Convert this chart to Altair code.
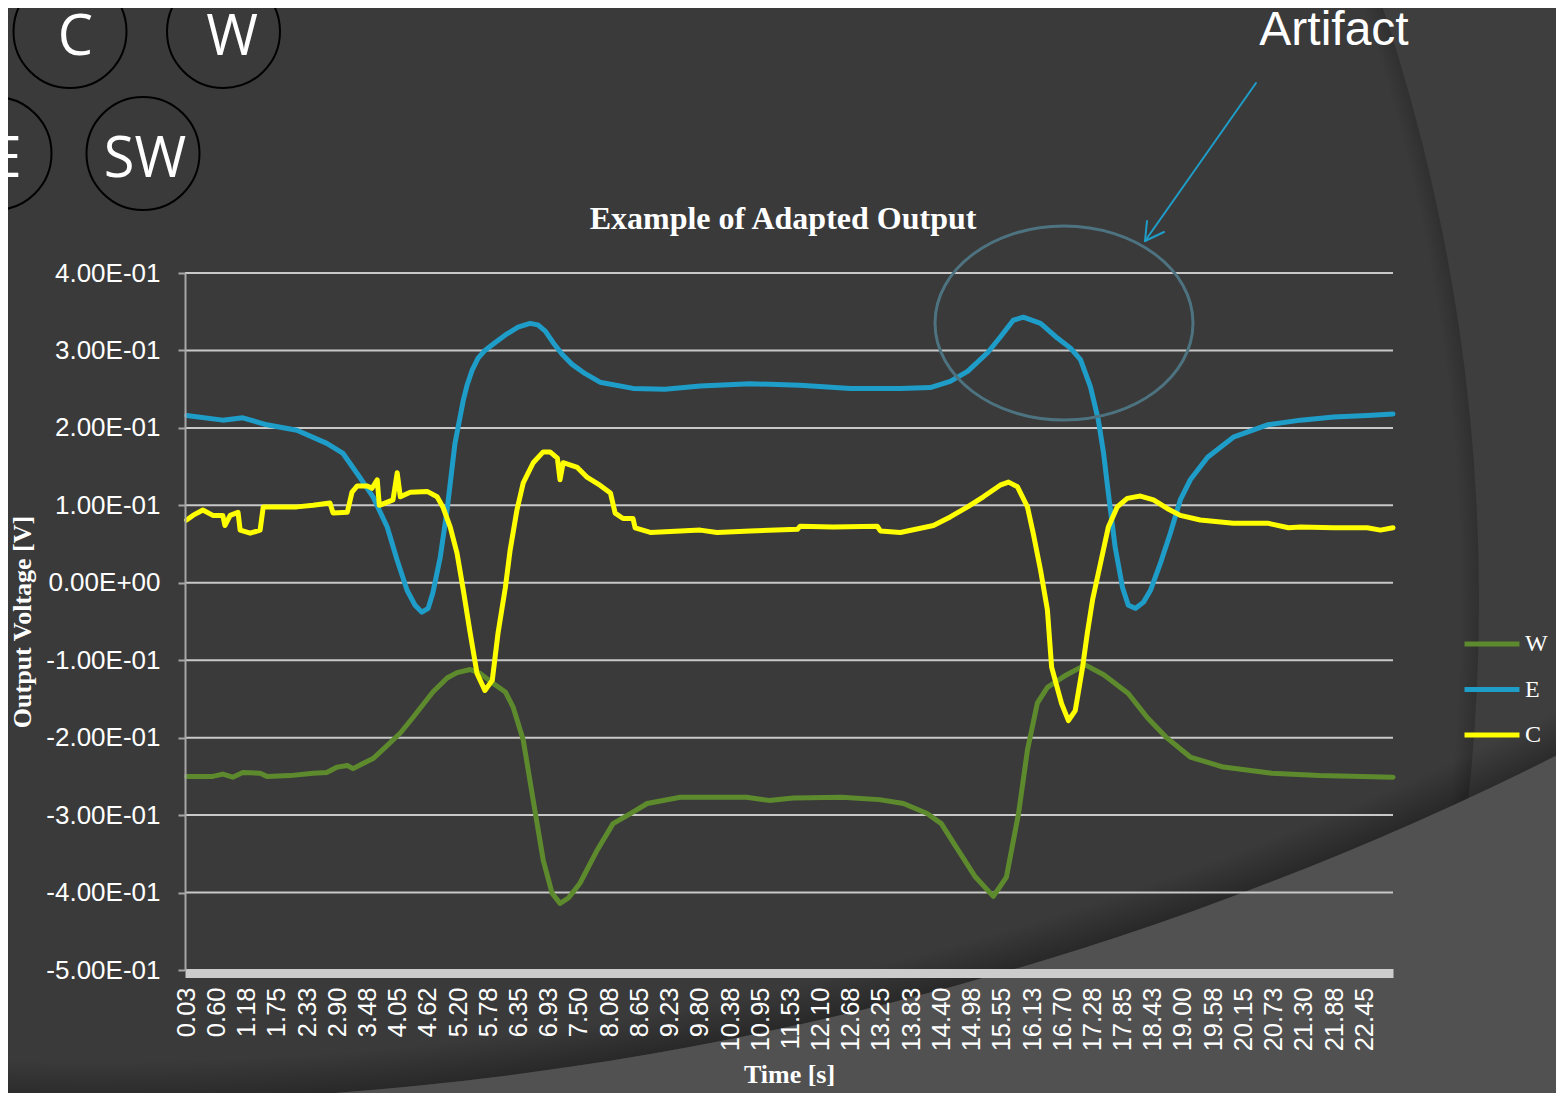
import json
import math
import altair as alt
import pandas as pd

# ---------------- data ----------------
series_names = ["W", "E", "C"]
series_colors = ["#5e8a2e", "#1f9dc9", "#ffff00"]

W_t = [0.03, 0.53, 0.72, 0.91, 1.10, 1.43, 1.56, 2.00, 2.44, 2.70, 2.90, 3.09, 3.20, 3.37, 3.58,
       3.71, 3.96, 4.10, 4.34, 4.72, 4.99, 5.18, 5.43, 5.62, 5.87, 6.10, 6.25, 6.44, 6.63, 6.82,
       6.99, 7.14, 7.30, 7.52, 7.85, 8.15, 8.48, 8.80, 9.43, 9.77, 10.69, 11.12, 11.58, 12.50, 13.22,
       13.68, 14.13, 14.40, 14.69, 15.05, 15.39, 15.64, 15.87, 16.04, 16.23, 16.42, 16.78, 17.14, 17.50, 17.96,
       18.32, 18.69, 19.14, 19.77, 20.69, 21.60, 23.00]
W_v = [-0.250, -0.250, -0.247, -0.251, -0.245, -0.246, -0.250, -0.249, -0.246, -0.245, -0.238, -0.236, -0.240, -0.234, -0.227,
       -0.219, -0.203, -0.194, -0.174, -0.141, -0.123, -0.116, -0.112, -0.117, -0.130, -0.141, -0.161, -0.203, -0.281, -0.358,
       -0.401, -0.414, -0.407, -0.388, -0.345, -0.311, -0.298, -0.285, -0.277, -0.277, -0.277, -0.281, -0.278, -0.277, -0.280,
       -0.285, -0.298, -0.311, -0.342, -0.380, -0.405, -0.380, -0.298, -0.216, -0.155, -0.135, -0.119, -0.106, -0.119, -0.143,
       -0.174, -0.200, -0.225, -0.238, -0.246, -0.249, -0.251]

E_t = [0.03, 0.72, 1.10, 1.56, 2.13, 2.70, 3.01, 3.33, 3.58, 3.85, 4.04, 4.23, 4.38, 4.51, 4.63,
       4.72, 4.86, 4.99, 5.14, 5.30, 5.37, 5.47, 5.58, 5.71, 5.90, 6.10, 6.34, 6.57, 6.72, 6.86,
       7.01, 7.18, 7.37, 7.62, 7.90, 8.53, 9.14, 9.81, 10.76, 11.71, 12.67, 13.62, 14.19, 14.57, 14.90,
       15.28, 15.52, 15.77, 15.96, 16.29, 16.61, 16.86, 17.05, 17.24, 17.39, 17.49, 17.58, 17.71, 17.85, 17.96,
       18.10, 18.25, 18.38, 18.57, 18.76, 18.95, 19.14, 19.47, 19.96, 20.61, 21.24, 21.87, 22.51, 23.00]
E_v = [0.216, 0.210, 0.213, 0.204, 0.197, 0.180, 0.167, 0.136, 0.111, 0.072, 0.029, -0.010, -0.029, -0.038, -0.033,
       -0.013, 0.033, 0.094, 0.180, 0.236, 0.255, 0.275, 0.290, 0.300, 0.310, 0.320, 0.330, 0.335, 0.333, 0.325,
       0.310, 0.295, 0.282, 0.270, 0.259, 0.251, 0.250, 0.254, 0.257, 0.255, 0.251, 0.251, 0.252, 0.260, 0.273,
       0.297, 0.317, 0.339, 0.343, 0.335, 0.316, 0.303, 0.288, 0.253, 0.210, 0.167, 0.116, 0.046, -0.006, -0.029,
       -0.033, -0.025, -0.010, 0.025, 0.064, 0.107, 0.133, 0.162, 0.188, 0.204, 0.210, 0.214, 0.216, 0.218]

C_t = [0.03, 0.15, 0.34, 0.53, 0.72, 0.76, 0.86, 1.01, 1.05, 1.24, 1.43, 1.49, 1.81, 2.13, 2.44,
       2.76, 2.82, 3.09, 3.18, 3.28, 3.47, 3.56, 3.66, 3.70, 3.96, 4.04, 4.10, 4.29, 4.61, 4.80,
       4.91, 5.05, 5.18, 5.30, 5.43, 5.56, 5.71, 5.85, 5.96, 6.10, 6.19, 6.32, 6.44, 6.63, 6.82,
       6.95, 7.09, 7.14, 7.20, 7.47, 7.66, 7.90, 8.10, 8.19, 8.34, 8.53, 8.57, 8.86, 9.81, 10.13,
       10.76, 11.66, 11.71, 12.34, 13.18, 13.24, 13.62, 14.25, 14.57, 14.90, 15.20, 15.52, 15.68, 15.85, 16.04,
       16.15, 16.29, 16.42, 16.50, 16.69, 16.82, 16.95, 17.09, 17.18, 17.28, 17.43, 17.58, 17.75, 17.94, 18.19,
       18.44, 18.70, 18.95, 19.33, 19.96, 20.61, 21.01, 21.24, 21.87, 22.51, 22.76, 23.00]
C_v = [0.081, 0.087, 0.094, 0.087, 0.087, 0.074, 0.087, 0.091, 0.068, 0.064, 0.068, 0.098, 0.098, 0.098, 0.100,
       0.103, 0.090, 0.091, 0.117, 0.125, 0.125, 0.122, 0.133, 0.100, 0.107, 0.142, 0.111, 0.117, 0.118, 0.111,
       0.098, 0.072, 0.038, -0.010, -0.065, -0.117, -0.139, -0.126, -0.065, -0.006, 0.042, 0.094, 0.129, 0.155, 0.169,
       0.169, 0.161, 0.133, 0.155, 0.149, 0.136, 0.126, 0.116, 0.090, 0.083, 0.083, 0.071, 0.065, 0.068, 0.065,
       0.067, 0.069, 0.073, 0.072, 0.073, 0.067, 0.065, 0.074, 0.085, 0.098, 0.111, 0.126, 0.130, 0.124, 0.098,
       0.064, 0.016, -0.035, -0.109, -0.156, -0.178, -0.165, -0.109, -0.065, -0.022, 0.025, 0.072, 0.098, 0.109, 0.112,
       0.107, 0.096, 0.087, 0.081, 0.077, 0.077, 0.071, 0.072, 0.071, 0.071, 0.068, 0.071]

x_tick_labels = ["0.03", "0.60", "1.18", "1.75", "2.33", "2.90", "3.48", "4.05", "4.62", "5.20",
                 "5.78", "6.35", "6.93", "7.50", "8.08", "8.65", "9.23", "9.80", "10.38", "10.95",
                 "11.53", "12.10", "12.68", "13.25", "13.83", "14.40", "14.98", "15.55", "16.13", "16.70",
                 "17.28", "17.85", "18.43", "19.00", "19.58", "20.15", "20.73", "21.30", "21.88", "22.45"]
y_tick_values = [-0.5, -0.4, -0.3, -0.2, -0.1, 0.0, 0.1, 0.2, 0.3, 0.4]
y_tick_labels = ["-5.00E-01", "-4.00E-01", "-3.00E-01", "-2.00E-01", "-1.00E-01",
                 "0.00E+00", "1.00E-01", "2.00E-01", "3.00E-01", "4.00E-01"]

title_text = "Example of Adapted Output"
x_title = "Time [s]"
y_title = "Output Voltage [V]"

rows = []
for name, ts, vs in [("W", W_t, W_v), ("E", E_t, E_v), ("C", C_t, C_v)]:
    for t, v in zip(ts, vs):
        rows.append({"series": name, "time": t, "voltage": v})
df = pd.DataFrame(rows)
grid_df = pd.DataFrame({"value": y_tick_values[1:]})
one = pd.DataFrame({"k": [0]})

# ---------------- layout ----------------
PW, PH = 1208, 697          # plot area
X0, Y0 = 185, 273           # page position of the plot origin
TOTAL_W, TOTAL_H = 1548, 1085


def px(x):
    return x - X0


def py(y):
    return y - Y0


WHITE = "#ffffff"
SANS = "Liberation Sans"
SERIF = "Liberation Serif"

x_scale = alt.Scale(domain=[0.0, 23.0], nice=False, zero=False)
y_scale = alt.Scale(domain=[-0.5, 0.4], nice=False, zero=False)

x_axis = alt.Axis(
    values=[float(s) for s in x_tick_labels], format=".2f", labelAngle=270,
    labelFont=SANS, labelFontSize=25.5, labelColor=WHITE, labelPadding=14,
    labelOverlap=False, labelFlush=False, ticks=False, tickSize=0, grid=False,
    domainColor="#cccccc", domainWidth=9, offset=3,
    title=x_title, titleFont=SERIF, titleFontSize=26, titleFontWeight="bold",
    titleColor=WHITE, titlePadding=11, zindex=1,
)
y_axis = alt.Axis(
    values=y_tick_values,
    labelExpr=f"{json.dumps(y_tick_labels)}[round(datum.value * 10) + 5]",
    labelFont=SANS, labelFontSize=26, labelColor=WHITE, labelPadding=18,
    labelOverlap=False, labelFlush=False, ticks=True, tickSize=7, tickWidth=2,
    tickColor="#a6a6a6", grid=False, domainColor="#a6a6a6", domainWidth=2,
    title=y_title, titleFont=SERIF, titleFontSize=26, titleFontWeight="bold",
    titleColor=WHITE, titlePadding=10, zindex=1,
)
legend = alt.Legend(
    title=None, orient="none", legendX=1277, legendY=341, direction="vertical",
    symbolType="stroke", symbolSize=3025, symbolStrokeWidth=5,
    labelFont=SERIF, labelFontSize=24, labelColor=WHITE, labelOffset=3,
    rowPadding=3.5, padding=0, zindex=1,
)
color_scale = alt.Scale(domain=series_names, range=series_colors)

base_one = alt.Chart(one)

# ---------------- slide background decorations ----------------
disk_dark = base_one.mark_arc(
    theta=0, theta2=2 * math.pi, innerRadius=0, outerRadius=1870,
    fill=alt.RadialGradient(
        gradient="radial", x1=0.5, y1=0.5, r1=0, x2=0.5, y2=0.5, r2=0.5,
        stops=[alt.GradientStop(offset=0, color="#3a3a3a"),
               alt.GradientStop(offset=0.99, color="#3a3a3a"),
               alt.GradientStop(offset=1, color="#303030")]),
).encode(x=alt.value(px(-391)), y=alt.value(py(600)))

swoosh_shadow = base_one.mark_arc(
    theta=0, theta2=2 * math.pi, innerRadius=3229, outerRadius=3269,
    fill=alt.RadialGradient(
        gradient="radial", x1=0.5, y1=0.5, r1=0, x2=0.5, y2=0.5, r2=0.5,
        stops=[alt.GradientStop(offset=0.9877, color="rgba(0,0,0,0)"),
               alt.GradientStop(offset=1, color="rgba(0,0,0,0.3)")]),
).encode(x=alt.value(px(92)), y=alt.value(py(-2167)))

swoosh_light = base_one.mark_arc(
    theta=0, theta2=2 * math.pi, innerRadius=3269, outerRadius=4300, fill="#515151",
).encode(x=alt.value(px(92)), y=alt.value(py(-2167)))

# ---------------- chart content ----------------
grid = alt.Chart(grid_df).mark_rule(color="#c8c8c8", strokeWidth=2).encode(
    y=alt.Y("value:Q", scale=y_scale, axis=y_axis)
)


def series_layer(name):
    return alt.Chart(df).transform_filter(alt.datum.series == name).mark_line(
        strokeWidth=5, strokeJoin="round", strokeCap="round"
    ).encode(
        x=alt.X("time:Q", scale=x_scale, axis=x_axis),
        y=alt.Y("voltage:Q", scale=y_scale, axis=y_axis),
        color=alt.Color("series:N", scale=color_scale, legend=legend),
    )


lines = [series_layer(n) for n in series_names]

title_mark = base_one.mark_text(
    text=title_text, font=SERIF, fontSize=32, fontWeight="bold", color=WHITE,
    align="center", baseline="alphabetic",
).encode(x=alt.value(px(783)), y=alt.value(py(229)))

# ---------------- annotations ----------------
ellipse_path = ("M1,0C1,0.4153 0.5523,0.752 0,0.752C-0.5523,0.752 -1,0.4153 -1,0"
                "C-1,-0.4153 -0.5523,-0.752 0,-0.752C0.5523,-0.752 1,-0.4153 1,0Z")
ellipse = base_one.mark_point(
    shape=ellipse_path, size=258 * 258, filled=False, stroke="#4d7381",
    strokeWidth=3, opacity=1,
).encode(x=alt.value(px(1064)), y=alt.value(py(323)))

arrow_color = "#1f9dc9"
arrow_parts = [
    ((1256, 83), (1145, 241)),
    ((1145, 241), (1164, 232)),
    ((1145, 241), (1147, 221)),
]
arrows = [
    base_one.mark_rule(color=arrow_color, strokeWidth=2, strokeCap="round").encode(
        x=alt.value(px(a[0])), y=alt.value(py(a[1])),
        x2=alt.value(px(b[0])), y2=alt.value(py(b[1])))
    for a, b in arrow_parts
]
artifact = base_one.mark_text(
    text="Artifact", font=SANS, fontSize=48, color=WHITE, align="center", baseline="alphabetic",
).encode(x=alt.value(px(1334)), y=alt.value(py(45)))

circle_specs = [("C", 70, 31.5, 75.5, 55), ("W", 223.5, 31.5, 232, 55),
                ("E", -5, 153.5, 6, 177), ("SW", 143, 153.5, 145, 177)]
badges = []
for label, cx, cy, tx, ty in circle_specs:
    badges.append(base_one.mark_point(
        shape="circle", size=113 * 113, filled=False, stroke="#000000", strokeWidth=2, opacity=1,
    ).encode(x=alt.value(px(cx)), y=alt.value(py(cy))))
    badges.append(base_one.mark_text(
        text=label, font="Open Sans", fontSize=56, color=WHITE, align="center", baseline="alphabetic",
    ).encode(x=alt.value(px(tx)), y=alt.value(py(ty))))

chart = alt.layer(
    disk_dark, swoosh_shadow, swoosh_light, grid, *lines, ellipse, *arrows, artifact,
    *badges, title_mark,
).properties(
    width=PW, height=PH,
    padding={"left": X0 - 8, "top": Y0 - 8, "right": TOTAL_W - (X0 - 8) - PW,
             "bottom": TOTAL_H - (Y0 - 8) - PH},
    autosize=alt.AutoSizeParams(type="none"),
    background="#3e3e3e",
).configure_view(strokeWidth=0)

chart.save("out.html", embed_options={"renderer": "svg", "actions": False})
